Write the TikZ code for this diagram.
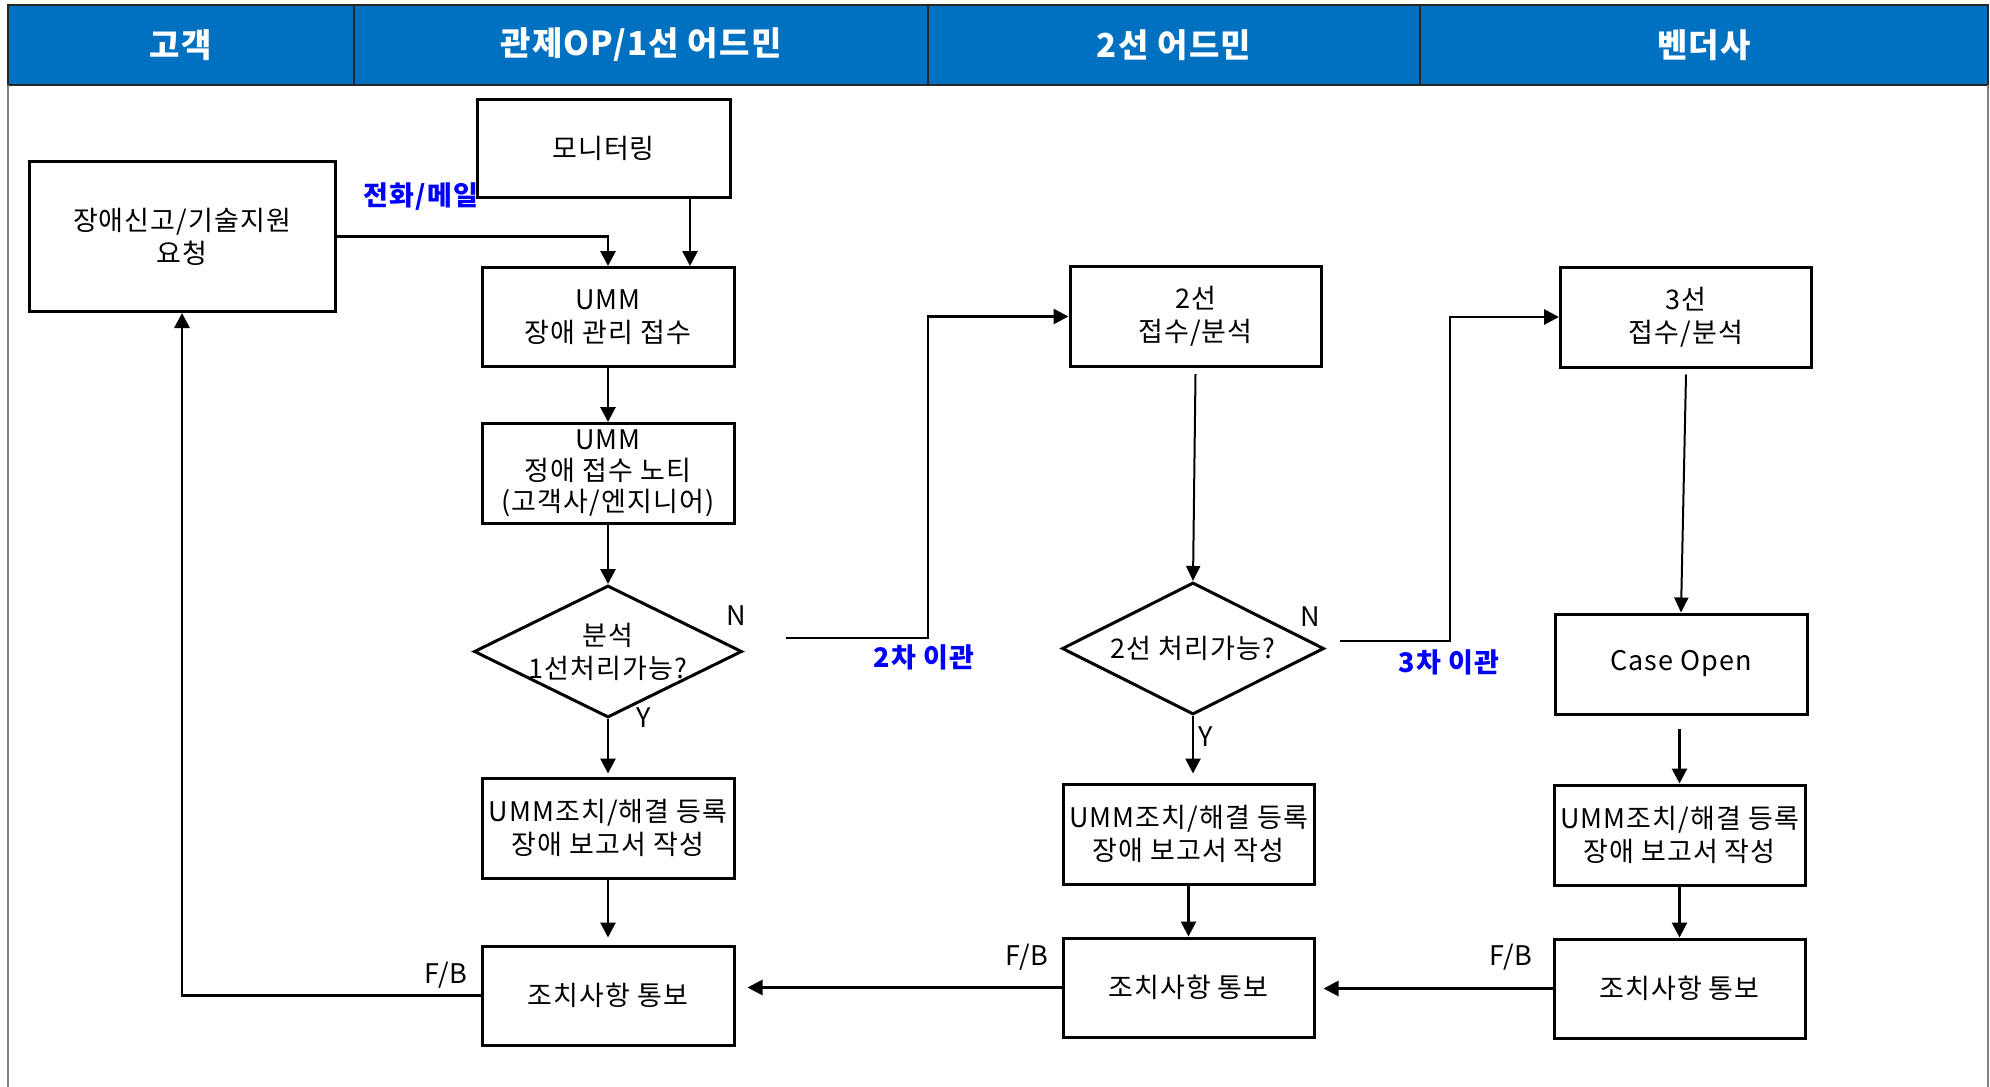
\documentclass[tikz,border=0pt]{standalone}
\usepackage{fontspec}
\setmainfont[LetterSpace=4]{Noto Sans CJK KR}
\usetikzlibrary{shapes.geometric,arrows.meta}
\definecolor{hdr}{HTML}{0070C0}
\definecolor{lbl}{HTML}{0000FF}
\begin{document}
\begin{tikzpicture}[x=1pt,y=-1pt,
  txt/.style={font=\fontsize{27}{33}\selectfont},
  box/.style={txt, draw, line width=3pt, align=center, inner sep=0pt,
    minimum width=252pt, minimum height=99pt},
  dec/.style={diamond, draw, line width=3pt, inner sep=0pt},
  arr/.style={-{Triangle[length=15pt,width=15pt]}, line width=2.8pt},
  arrthin/.style={-{Triangle[length=15pt,width=14pt]}, line width=2pt},
  hd/.style={font=\fontsize{33}{38}\selectfont\bfseries, text=white},
  cell/.style={draw=black!85, line width=1.5pt},
  bl/.style={txt, font=\fontsize{27}{33}\selectfont\bfseries, text=lbl},
  yn/.style={txt}]
\useasboundingbox (0,0) rectangle (1990,1087);
% header
\fill[hdr] (8,5) rectangle (1988,85);
\draw[cell] (8,5) rectangle (354,85);
\draw[cell] (354,5) rectangle (928,85);
\draw[cell] (928,5) rectangle (1420,85);
\draw[cell] (1420,5) rectangle (1988,85);
\draw[black!50, line width=1.5pt] (8,85) -- (8,1087);
\draw[black!50, line width=1.5pt] (1988,85) -- (1988,1087);
\node[hd] (h1) at (181,45) {고객};
\node[hd] (h2) at (641,45) {관제OP/1선 어드민};
\node[hd] (h3) at (1174,45) {2선 어드민};
\node[hd] (h4) at (1704,45) {벤더사};
% nodes
\node[box, minimum width=306pt, minimum height=150pt] (req) at (182,236.5) {장애신고/기술지원\\요청};
\node[box, minimum width=253pt, minimum height=98pt] (mon) at (603.5,148) {모니터링};
\node[box] (umm1) at (608,317) {UMM\\장애 관리 접수};
\node[box, minimum height=100pt, font=\fontsize{27}{31}\selectfont] (umm2) at (608,473.5) {UMM\\정애 접수 노티\\(고객사/엔지니어)};
\node[dec, minimum width=268pt, minimum height=132pt] (d1) at (608,651.5) {};
\node[txt, align=center] (d1t) at (d1.center) {분석\\1선처리가능?};
\node[box, minimum height=100pt] (act1) at (608,828) {UMM조치/해결 등록\\장애 보고서 작성};
\node[box] (not1) at (608,995.5) {조치사항 통보};
\node[box, minimum width=251pt, minimum height=100pt] (l2) at (1195.5,316.5) {2선\\접수/분석};
\node[dec, minimum width=262pt, minimum height=132pt] (d2) at (1193,648.5) {};
\node[txt] (d2t) at (d2.center) {2선 처리가능?};
\node[box, minimum width=251pt, minimum height=100pt] (act2) at (1188.5,834) {UMM조치/해결 등록\\장애 보고서 작성};
\node[box, minimum width=251pt] (not2) at (1188.5,987.5) {조치사항 통보};
\node[box, minimum width=251pt, minimum height=100pt] (l3) at (1686,317) {3선\\접수/분석};
\node[box, minimum width=252pt, minimum height=100pt] (case) at (1681,664) {Case Open};
\node[box, minimum width=251pt, minimum height=100pt] (act3) at (1679.5,835) {UMM조치/해결 등록\\장애 보고서 작성};
\node[box, minimum width=251pt] (not3) at (1679.5,988.5) {조치사항 통보};
% helper coordinates
\coordinate (mx) at (690,0);
\coordinate (n1) at (786,638);
\coordinate (c1) at (928,638);
\coordinate (n2) at (1340,641);
\coordinate (c2) at (1450,641);
% connectors
\draw[arr] (req.east) -| (umm1.north);
\draw[arr] (mon.south -| mx) -- (umm1.north -| mx);
\draw[arr] (umm1.south) -- (umm2.north);
\draw[arr] (umm2.south) -- (d1.north);
\draw[arr] (d1.south) -- ([yshift=3pt]act1.north);
\draw[arr] (act1.south) -- ([yshift=7pt]not1.north);
\draw[arr] (not1.west) -| (req.south);
\draw[arr] (n1) -- (c1) |- (l2.west);
\draw[arrthin] ([yshift=-6pt]l2.south) -- (d2.north);
\draw[arr] (n2) -- (c2) |- (l3.west);
\draw[arr] (d2.south) -- ([yshift=9pt]d2.south |- act2.north);
\draw[arr] (act2.south) -- (not2.north);
\draw[arrthin] ([yshift=-6pt]l3.south) -- (case.north);
\draw[arr] ([yshift=-13pt]act3.north |- case.south) -- (act3.north);
\draw[arr] (act3.south) -- (not3.north);
\draw[arr] (not3.west) -- ([xshift=8pt]not2.east |- not3.west);
\draw[arr] (not2.west) -- ([xshift=12pt]not1.east |- not2.west);
% labels
\node[bl] (lb1) at (421,197) {전화/메일};
\node[bl] (lb2) at (924,657) {2차 이관};
\node[bl] (lb3) at (1449,662) {3차 이관};
\node[yn] (n1l) at (736,616) {N};
\node[yn] (y1l) at (644,718) {Y};
\node[yn] (n2l) at (1310,617) {N};
\node[yn] (y2l) at (1206,737) {Y};
\node[yn] (fb1) at (446,975) {F/B};
\node[yn] (fb2) at (1027,957) {F/B};
\node[yn] (fb3) at (1511,957) {F/B};
\end{tikzpicture}
\end{document}
